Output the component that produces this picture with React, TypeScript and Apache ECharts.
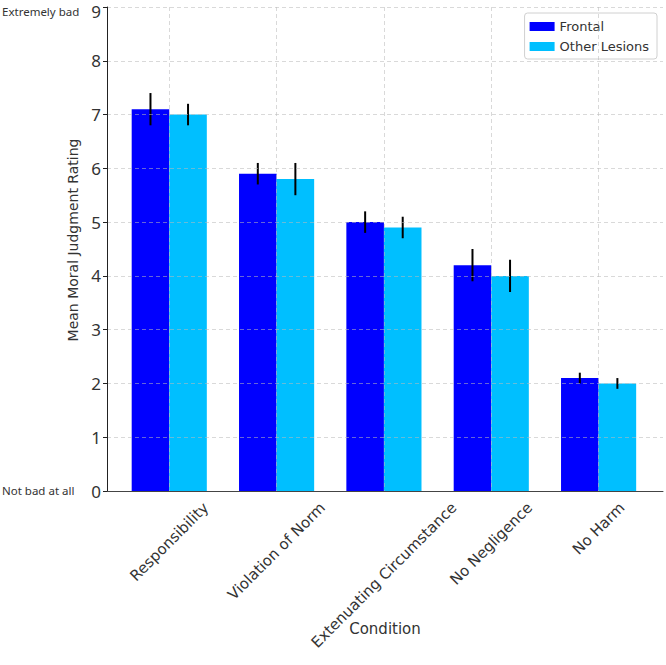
import React, { useEffect, useRef } from "react";
import * as echarts from "echarts";

const categories = [
  "Responsibility",
  "Violation of Norm",
  "Extenuating Circumstance",
  "No Negligence",
  "No Harm",
];
const frontalMeans = [7.1, 5.9, 5.0, 4.2, 2.1];
const frontalErrors = [0.3, 0.2, 0.2, 0.3, 0.1];
const otherMeans = [7.0, 5.8, 4.9, 4.0, 2.0];
const otherErrors = [0.2, 0.3, 0.2, 0.3, 0.1];
const seriesNames = ["Frontal", "Other Lesions"];
const seriesColors = ["#0000FF", "#00BFFF"];
const yTopLabel = "Extremely bad";
const yBottomLabel = "Not bad at all";
const Y_MAX = 9;

const FONT = "DejaVu Sans";
const LABEL_SIZE = 15;
const BAR_W = 0.35;

let measureCtx: CanvasRenderingContext2D | null = null;
function textWidth(t: string, size: number) {
  if (!measureCtx) measureCtx = document.createElement("canvas").getContext("2d");
  if (!measureCtx) return t.length * size * 0.6;
  measureCtx.font = `${size}px "${FONT}"`;
  return measureCtx.measureText(t).width;
}

function barSeries(name: string, color: string, means: number[], errs: number[], offset: number) {
  return {
    type: "custom",
    name,
    itemStyle: { color },
    coordinateSystem: "cartesian2d",
    encode: { x: 0, y: 1 },
    data: means.map((m, i) => [i, m, errs[i]]),
    z: 2,
    renderItem: (params: any, api: any) => {
      const x = api.value(0) + offset;
      const v = api.value(1);
      const e = api.value(2);
      const p1 = api.coord([x - BAR_W / 2, v]);
      const p2 = api.coord([x + BAR_W / 2, 0]);
      const t = api.coord([x, v + e]);
      const b = api.coord([x, v - e]);
      return {
        type: "group",
        children: [
          {
            type: "rect",
            shape: { x: p1[0], y: p1[1], width: p2[0] - p1[0], height: p2[1] - p1[1] },
            style: { fill: color },
          },
          {
            type: "line",
            z2: 10,
            shape: { x1: t[0], y1: t[1], x2: b[0], y2: b[1] },
            style: { stroke: "#000", lineWidth: 2 },
          },
        ],
      };
    },
  };
}

export default function App() {
  const ref = useRef<HTMLDivElement>(null);
  useEffect(() => {
    document.body.style.margin = "0";
    if (!ref.current) return;
    const chart = echarts.init(ref.current, null, { renderer: "svg" });
    const gridLine = { show: true, lineStyle: { color: "rgba(185,185,185,0.55)", type: [4, 3], width: 1 } };
    chart.setOption({
      animation: false,
      backgroundColor: "#fff",
      textStyle: { fontFamily: FONT },
      grid: { left: 107, right: 3, top: 7, bottom: 174, containLabel: false, outerBoundsMode: "none" },
      legend: {
        orient: "vertical",
        right: 9,
        top: 13,
        icon: "rect",
        itemWidth: 25,
        itemHeight: 9,
        itemGap: 7,
        padding: [7, 8, 6, 5],
        borderColor: "#d0d0d0",
        borderWidth: 1,
        borderRadius: 3,
        backgroundColor: "rgba(255,255,255,0.85)",
        textStyle: { fontFamily: FONT, fontSize: 13, color: "#333" },
        data: seriesNames,
      },
      xAxis: {
        type: "value",
        min: -0.58,
        max: 4.6,
        z: 5,
        name: "Condition",
        nameLocation: "middle",
        nameGap: 130,
        nameTextStyle: { fontFamily: FONT, fontSize: 15, color: "#333" },
        axisLine: { show: true, onZero: false, lineStyle: { color: "#444", width: 1 } },
        axisTick: { show: false, customValues: [0, 1, 2, 3, 4] },
        axisLabel: { show: false, customValues: [0, 1, 2, 3, 4] },
        splitLine: gridLine,
      },
      yAxis: {
        type: "value",
        min: 0,
        max: Y_MAX,
        interval: 1,
        z: 5,
        name: "Mean Moral Judgment Rating",
        nameLocation: "middle",
        nameGap: 22,
        nameTextStyle: { fontFamily: FONT, fontSize: 14, color: "#333", padding: [0, 0, 0, 18] },
        axisLine: { show: true, onZero: false, lineStyle: { color: "#222", width: 1 } },
        axisTick: { show: true, length: 4, lineStyle: { color: "#222" } },
        axisLabel: {
          fontFamily: "Noto Sans",
          fontSize: 17,
          lineHeight: 13,
          color: "#333",
          margin: 6,
          formatter: (v: number) => (v === Y_MAX ? `{top|${v}}` : `${v}`),
          rich: {
            top: { fontFamily: "Noto Sans", fontSize: 17, lineHeight: 13, color: "#333", padding: [8, 0, 0, 0] },
          },
        },
        splitLine: gridLine,
      },
      graphic: [
        {
          type: "text",
          left: 2,
          top: 5,
          style: { text: yTopLabel, font: '11.5px "Noto Sans"', fill: "#333" },
        },
        {
          type: "text",
          left: 2,
          top: 484,
          style: { text: yBottomLabel, font: '11.5px "Noto Sans"', fill: "#333" },
        },
      ],
      series: [
        barSeries(seriesNames[0], seriesColors[0], frontalMeans, frontalErrors, -BAR_W / 2),
        barSeries(seriesNames[1], seriesColors[1], otherMeans, otherErrors, BAR_W / 2),
        {
          type: "custom",
          name: "labels",
          coordinateSystem: "cartesian2d",
          encode: { x: 0, y: 1 },
          clip: false,
          silent: true,
          data: categories.map((_, i) => [i, 0]),
          renderItem: (params: any, api: any) => {
            const i = api.value(0);
            const text = categories[params.dataIndex];
            const p = api.coord([i, 0]);
            const w = textWidth(text, LABEL_SIZE);
            const h = LABEL_SIZE * 1.15;
            const bboxH = Math.SQRT1_2 * (w + h);
            return {
              type: "text",
              x: p[0],
              y: p[1] + 8 + bboxH / 2,
              rotation: Math.PI / 4,
              style: {
                text,
                font: `${LABEL_SIZE}px "${FONT}"`,
                fill: "#333",
                align: "center",
                verticalAlign: "middle",
              },
            };
          },
        },
      ],
    });
    return () => chart.dispose();
  }, []);
  return <div ref={ref} style={{ width: 666, height: 665 }} />;
}
